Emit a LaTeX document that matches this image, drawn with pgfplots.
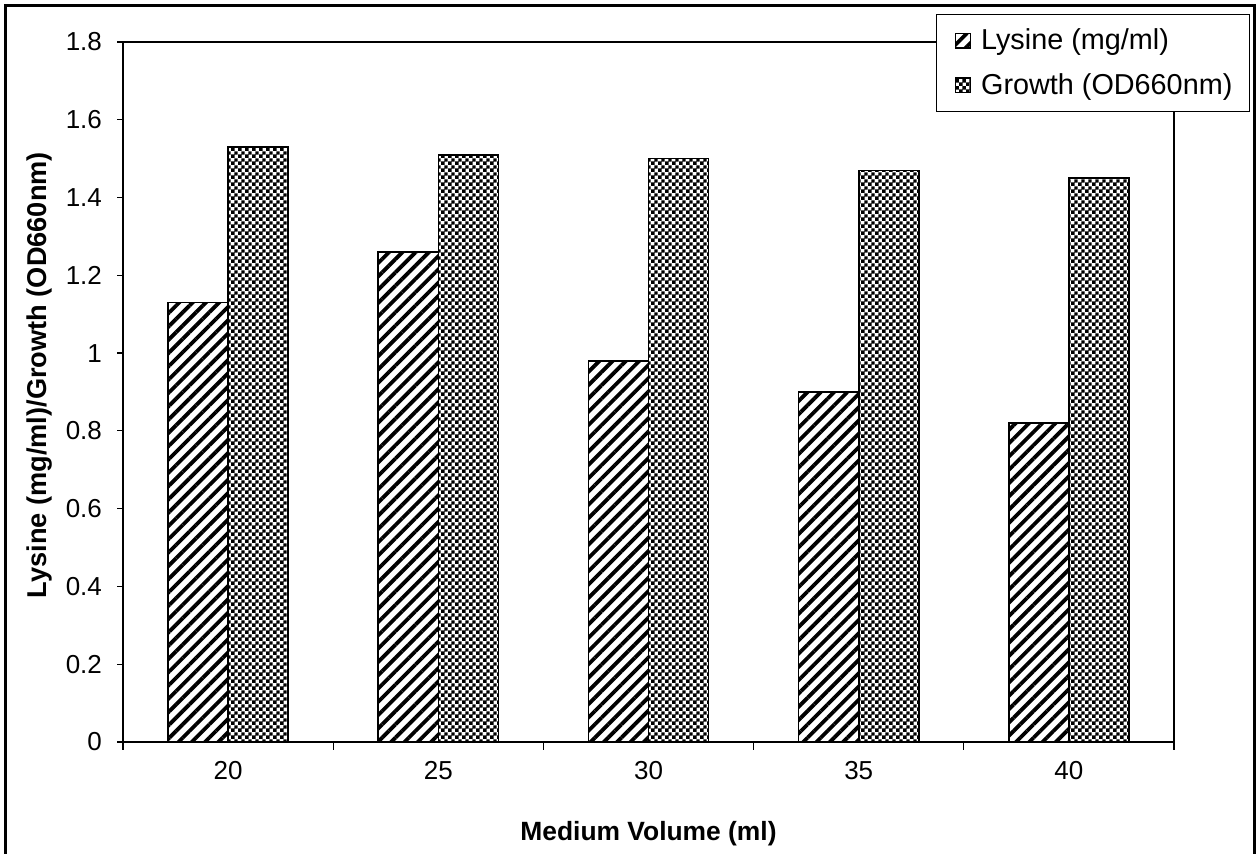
\documentclass[border=0pt]{standalone}
\usepackage{fontspec}
\setmainfont{Liberation Sans}
\usepackage{pgfplots}
\usepackage{pgfplotstable}
\pgfplotsset{compat=1.18}
\usetikzlibrary{patterns,patterns.meta}

\pgfdeclarepattern{
  name=mychecker,
  type=uncolored,
  bottom left={\pgfpointorigin},
  top right={\pgfpoint{3.4pt}{3.4pt}},
  tile size={\pgfpoint{3.4pt}{3.4pt}},
  code={
    \pgfpathrectangle{\pgfpointorigin}{\pgfpoint{1.8pt}{1.8pt}}
    \pgfpathrectangle{\pgfpoint{1.7pt}{1.7pt}}{\pgfpoint{1.7pt}{1.7pt}}
    \pgfusepath{fill}
  }
}

\pgfplotstableread{
x lys gro
0 1.13 1.53
1 1.26 1.51
2 0.98 1.50
3 0.90 1.47
4 0.82 1.45
}\data

\begin{document}
\begin{tikzpicture}[x=1pt,y=1pt]
\useasboundingbox (0,0) rectangle (628.5,427);
\draw[line width=1.5pt] (2.5,-5) -- (2.5,424) -- (627,424) -- (627,-5);
\begin{axis}[
  at={(61.5pt,56pt)}, anchor=south west,
  scale only axis, width=525.5pt, height=350pt,
  xmin=-0.5, xmax=4.5, ymin=0, ymax=1.8,
  ytick={0,0.2,0.4,0.6,0.8,1,1.2,1.4,1.6,1.8},
  xtick={0,1,2,3,4}, xticklabels={20,25,30,35,40},
  minor xtick={-0.5,0.5,1.5,2.5,3.5,4.5},
  every major x tick/.style={draw=none},
  tick align=outside, tick pos=left,
  major tick length=3pt, minor tick length=4pt,
  axis line style={line width=0.6pt, black},
  tick style={black, line width=0.6pt},
  tick label style={font=\fontsize{13}{15}\selectfont},
  /pgf/number format/assume math mode=true,
  yticklabel style={/pgf/number format/fixed, /pgf/number format/precision=1, xshift=-4pt},
  xticklabel style={yshift=-3pt},
  xlabel={Medium Volume (ml)},
  ylabel={Lysine (mg/ml)/Growth (OD660nm)},
  every axis x label/.style={at={(axis description cs:0.5,-0.1314)}, anchor=center,
    font=\bfseries\fontsize{13.2}{15}\selectfont},
  every axis y label/.style={at={(axis description cs:-0.079,0.524)}, rotate=90, anchor=center,
    font=\bfseries\fontsize{13.6}{15}\selectfont},
  legend cell align=left,
  legend style={at={(1.0723,1.040)}, anchor=north east, draw=black, line width=0.6pt,
    fill=white, font=\fontsize{14.4}{17}\selectfont, row sep=6.5pt,
    inner xsep=6.5pt, inner ysep=5pt},
  legend image code/.code={\path (-2.5pt,0pt) (10.5pt,0pt);
    \draw[#1, draw=black, line width=0.6pt] (0pt,-3.7pt) rectangle (7.5pt,3.7pt);},
]
\addplot[ybar, bar width=0.2857, bar shift=-0.14285, draw=black, line width=0.8pt,
  pattern={Lines[angle=45, distance=4.7pt, line width=1.9pt]}] table[x=x, y=lys] {\data};
\addlegendentry{Lysine (mg/ml)}
\addplot[ybar, bar width=0.2857, bar shift=0.14285, draw=black, line width=0.8pt,
  pattern=mychecker] table[x=x, y=gro] {\data};
\addlegendentry{Growth (OD660nm)}
\end{axis}
\end{tikzpicture}
\end{document}
